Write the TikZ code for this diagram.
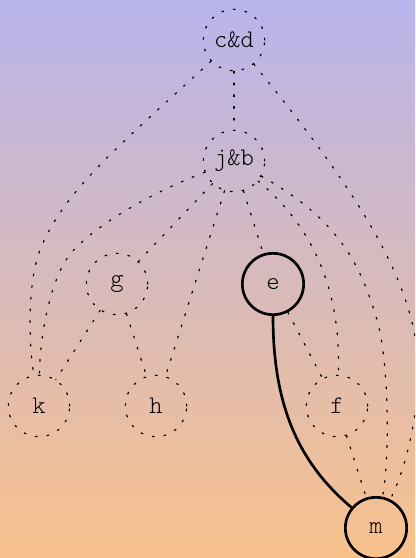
\documentclass[tikz,border=0pt]{standalone}
\usepackage{fontspec}
\setmonofont{lmmonolt10-regular.otf}
\definecolor{topcol}{HTML}{B8B4EC}
\definecolor{botcol}{HTML}{F8C18C}
\begin{document}
\begin{tikzpicture}[x=0.75pt, y=-0.75pt, line join=round, line cap=round,
		font=\ttfamily\fontsize{19}{19}\selectfont,
		dotline/.style={line width=0.9pt, dash pattern=on 1.4pt off 7.4pt},
		vtx/.style={circle, draw, dotline, minimum size=46pt, inner sep=0pt},
		solidvtx/.style={circle, draw, line width=2pt, minimum size=46pt, inner sep=0pt},
		thickedge/.style={line width=2pt}]
			\shade[top color=topcol, bottom color=botcol] (0,0) rectangle (415,558);
			\useasboundingbox (0,0) rectangle (415,558);
			\clip (0,0) rectangle (415,558);
			\node[vtx] (cd) at (234,40) {c\&d};
			\node[vtx] (jb) at (234,161) {j\&b};
			\node[vtx] (g) at (117,284) {g};
			\node[solidvtx] (e) at (273,284) {e};
			\node[vtx] (k) at (39,406) {k};
			\node[vtx] (h) at (156,406) {h};
			\node[vtx] (f) at (337,406) {f};
			\node[solidvtx] (m) at (376,528) {m};
			\foreach \a/\b in {cd/jb, jb/g, jb/h, jb/e, g/k, g/h, e/f, f/m}{\draw[dotline] (\a) -- (\b);}
			% curved edges
			\draw[dotline] (cd) .. controls (120,145) and (64,190) .. (40,250) .. controls (28,280) and (28,340) .. (k);
			\draw[dotline] (jb) .. controls (143,196) and (87,231) .. (68,257) .. controls (52,279) and (40,330) .. (k);
			\draw[dotline] (jb) .. controls (305,220) and (342,280) .. (f);
			\draw[dotline] (jb) .. controls (340,220) and (361,266) .. (377,320) .. controls (389,360) and (390,460) .. (m);
			\draw[dotline] (cd) .. controls (365,200) and (418,290) .. (418,370) .. controls (418,420) and (405,470) .. (m);
			\draw[thickedge] (e) .. controls (273,400) and (295,460) .. (m);
		\end{tikzpicture}
\end{document}
